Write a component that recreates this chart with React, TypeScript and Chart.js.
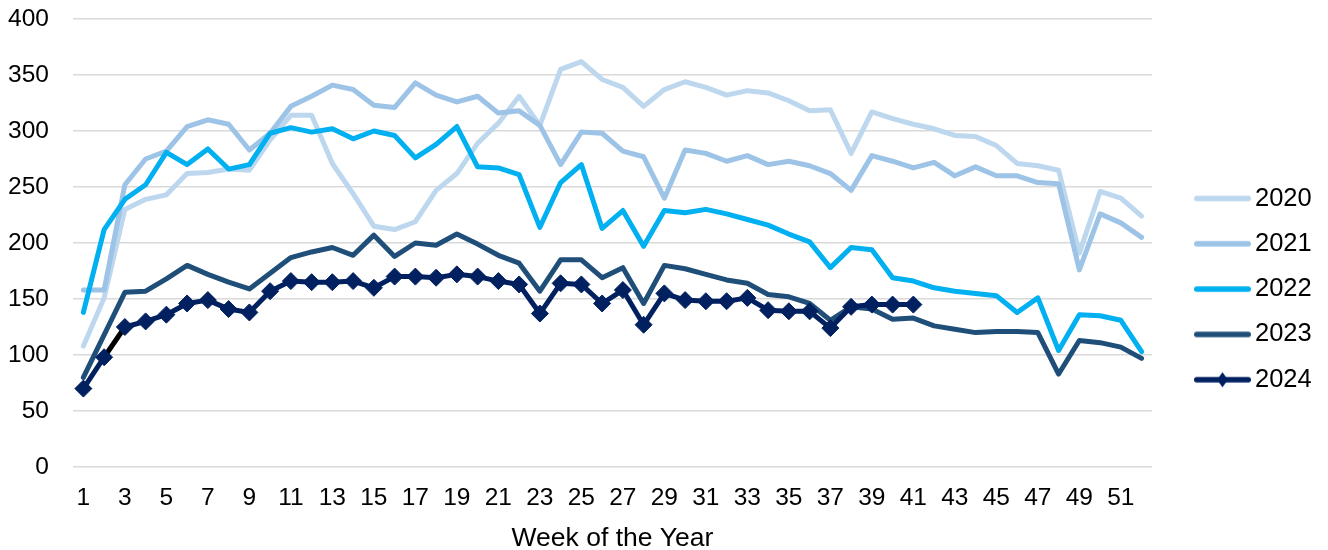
import React, { useEffect, useRef } from 'react';
import { Chart, registerables } from 'chart.js';

Chart.register(...registerables);

const weeks = ['1','2','3','4','5','6','7','8','9','10','11','12','13','14','15','16','17','18','19','20','21','22','23','24','25','26','27','28','29','30','31','32','33','34','35','36','37','38','39','40','41','42','43','44','45','46','47','48','49','50','51','52'];

const years = ['2020', '2021', '2022', '2023', '2024'];

const data2020 = [108, 151, 230, 239, 243, 262, 263, 266, 265, 292, 314, 314, 271, 244, 215, 212, 219, 247, 262, 289, 307, 331, 305, 355, 362, 346, 339, 322, 337, 344, 339, 332, 336, 334, 327, 318, 319, 280, 317, 311, 306, 302, 296, 295, 287, 271, 269, 265, 191, 246, 240, 224];
const data2021 = [158, 158, 252, 275, 282, 304, 310, 306, 283, 298, 322, 331, 341, 337, 323, 321, 343, 332, 326, 331, 316, 318, 305, 270, 299, 298, 282, 277, 240, 283, 280, 273, 278, 270, 273, 269, 262, 247, 278, 273, 267, 272, 260, 268, 260, 260, 254, 253, 176, 226, 218, 205];
const data2022 = [138, 212, 239, 252, 281, 270, 284, 266, 270, 298, 303, 299, 302, 293, 300, 296, 276, 288, 304, 268, 267, 261, 214, 254, 270, 213, 229, 197, 229, 227, 230, 226, 221, 216, 208, 201, 178, 196, 194, 169, 166, 160, 157, 155, 153, 138, 151, 104, 136, 135, 131, 103];
const data2023 = [80, 118, 156, 157, 168, 180, 172, 165, 159, 173, 187, 192, 196, 189, 207, 188, 200, 198, 208, 199, 189, 182, 157, 185, 185, 169, 178, 146, 180, 177, 172, 167, 164, 154, 152, 146, 131, 143, 141, 132, 133, 126, 123, 120, 121, 121, 120, 83, 113, 111, 107, 97];
const data2024 = [70, 98, 125, 130, 136, 146, 149, 141, 138, 157, 166, 165, 165, 166, 160, 170, 170, 169, 172, 170, 166, 163, 137, 164, 163, 146, 158, 127, 155, 149, 148, 148, 151, 140, 139, 139, 124, 143, 145, 145, 145];

const seriesData = [data2020, data2021, data2022, data2023, data2024];
const colors = ['#BDD7EE', '#9DC3E6', '#00B0F0', '#1F4E79', '#002060'];

const FONT = "'Liberation Sans', Arial, sans-serif";

function makeLegendImage(color: string, diamond: boolean) {
  const c = document.createElement('canvas');
  c.width = 92;
  c.height = 24;
  const g = c.getContext('2d') as CanvasRenderingContext2D;
  g.strokeStyle = color;
  g.lineWidth = 5.5;
  g.lineCap = 'round';
  g.beginPath();
  g.moveTo(35.75, 12);
  g.lineTo(87.25, 12);
  g.stroke();
  if (diamond) {
    g.fillStyle = color;
    g.beginPath();
    g.moveTo(61.5, 4.5);
    g.lineTo(67, 12);
    g.lineTo(61.5, 19.5);
    g.lineTo(56, 12);
    g.closePath();
    g.fill();
  }
  return c;
}

export default function App() {
  const canvasRef = useRef<HTMLCanvasElement | null>(null);

  useEffect(() => {
    if (!canvasRef.current) return;
    const legendImages = colors.map((c, i) => makeLegendImage(c, i === 4));

    const datasets = years.map((y, i) => {
      const isLast = i === 4;
      const ds: any = {
        label: y,
        data: seriesData[i],
        borderColor: colors[i],
        backgroundColor: colors[i],
        borderWidth: 5,
        borderCapStyle: 'round',
        borderJoinStyle: 'round',
        tension: 0,
        fill: false,
        order: 4 - i,
        pointRadius: isLast ? 8.5 : 0,
        pointHoverRadius: isLast ? 8.5 : 0,
        pointStyle: 'rectRot',
        pointBackgroundColor: colors[i],
        pointBorderColor: colors[i],
        pointBorderWidth: 1,
      };
      if (isLast) {
        ds.segment = {
          borderColor: (ctx: any) => (ctx.p0DataIndex === 1 ? '#000000' : undefined),
        };
      }
      return ds;
    });

    const chart = new Chart(canvasRef.current, {
      type: 'line',
      data: { labels: weeks, datasets },
      options: {
        responsive: false,
        animation: false,
        layout: { padding: { left: 0, right: 6.3, top: 19, bottom: 0 } },
        plugins: {
          legend: {
            position: 'right',
            align: 'center',
            title: { display: true, text: '', padding: 0, font: { size: 9.2, lineHeight: 1 } },
            labels: {
              usePointStyle: true,
              pointStyleWidth: 70.45,
              padding: 19.8,
              color: '#000000',
              font: { family: FONT, size: 25.5 },
              generateLabels: (ch: any) =>
                ch.data.datasets.map((ds: any, i: number) => ({
                  text: ds.label,
                  pointStyle: legendImages[i],
                  fillStyle: colors[i],
                  strokeStyle: colors[i],
                  lineWidth: 0,
                  hidden: false,
                  datasetIndex: i,
                  fontColor: '#000000',
                })),
            },
          },
          tooltip: { enabled: false },
        },
        scales: {
          x: {
            offset: true,
            grid: { display: false, drawTicks: false },
            border: { display: false },
            afterFit: (scale: any) => {
              scale.height = 83;
            },
            ticks: {
              autoSkip: false,
              maxRotation: 0,
              minRotation: 0,
              padding: 16.5,
              color: '#000000',
              font: { family: FONT, size: 24.5 },
              callback: (_v: any, i: number) => (i % 2 === 0 ? weeks[i] : ''),
            },
            title: {
              display: true,
              text: 'Week of the Year',
              color: '#000000',
              font: { family: FONT, size: 26.5, lineHeight: 1 },
              padding: { top: 0, bottom: -2 },
            },
          },
          y: {
            min: 0,
            max: 400,
            grid: { color: '#D9D9D9', lineWidth: 1.5, drawTicks: false },
            border: { display: false },
            afterFit: (scale: any) => {
              scale.width = 73;
              scale.paddingTop = 0;
              scale.paddingBottom = 0;
            },
            ticks: {
              stepSize: 50,
              padding: 24,
              color: '#000000',
              font: { family: FONT, size: 24.5 },
            },
          },
        },
      } as any,
    });

    return () => chart.destroy();
  }, []);

  return (
    <div style={{ position: 'absolute', left: 0, top: 0, width: 1328, height: 550, background: '#ffffff' }}>
      <canvas ref={canvasRef} width={1328} height={550} />
    </div>
  );
}
